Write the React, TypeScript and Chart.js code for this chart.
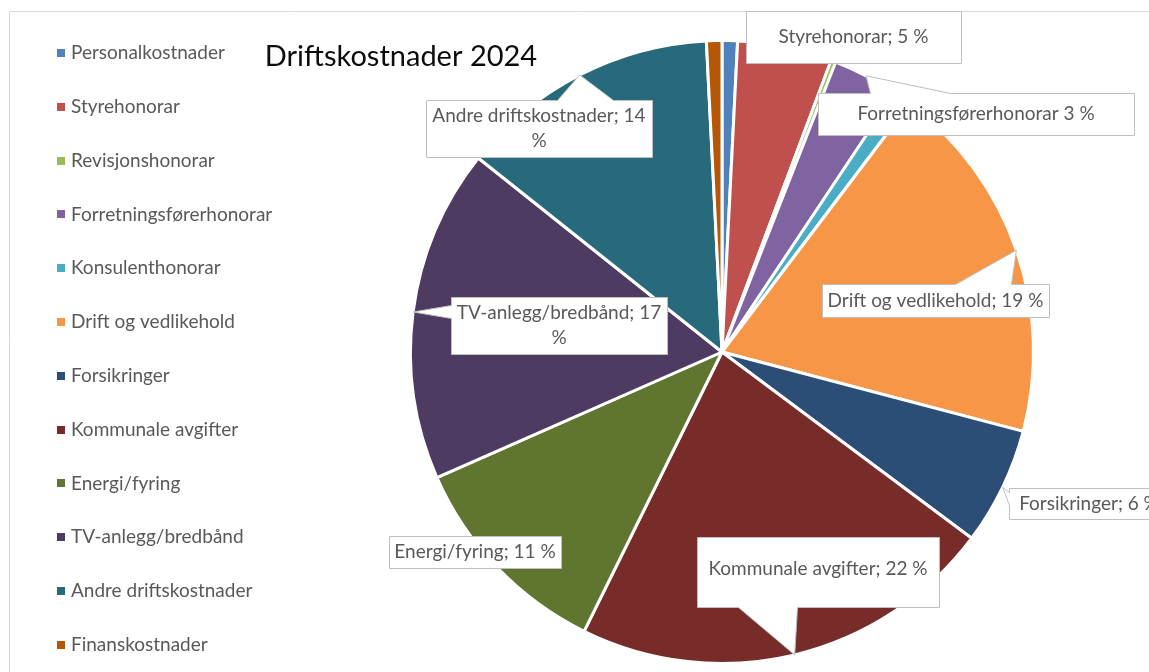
import { useEffect, useRef } from "react";
import { Chart, registerables } from "chart.js";

Chart.register(...registerables);

// ---- data ----
const chartTitle = "Driftskostnader 2024";
const categories = [
  "Personalkostnader",
  "Styrehonorar",
  "Revisjonshonorar",
  "Forretningsførerhonorar",
  "Konsulenthonorar",
  "Drift og vedlikehold",
  "Forsikringer",
  "Kommunale avgifter",
  "Energi/fyring",
  "TV-anlegg/bredbånd",
  "Andre driftskostnader",
  "Finanskostnader",
];
const shares = [0.8, 4.9, 0.25, 3.4, 0.95, 18.8, 6.1, 22.1, 11.1, 17.3, 13.5, 0.8];
// percentages printed in the data labels (null = no label)
const labelPercents = [null, 5, null, 3, null, 19, 6, 22, 11, 17, 14, null];
// separator between name and value in the label (Excel quirk on one label)
const labelSeparators = ["; ", "; ", "; ", " ", "; ", "; ", "; ", "; ", "; ", "; ", "; ", "; "];
const colors = [
  "#4F81BD",
  "#C0504D",
  "#9BBB59",
  "#8064A2",
  "#4BACC6",
  "#F79646",
  "#2C4D75",
  "#772C2A",
  "#5F7530",
  "#4D3B62",
  "#276A7C",
  "#B65708",
];

// ---- layout (positions / styles only) ----
const W = 1149;
const H = 672;
const FONT = 'Lato, "Open Sans", sans-serif';
const LABEL_SIZE = 19;
const TITLE_SIZE = 29;
const TEXT_GRAY = "#595959";
const BOX_BORDER = "#bfbfbf";

type Ptr = { edge: "top" | "bottom" | "left" | "right"; a: number; b: number } | null;
type Callout = { i: number; x: number; y: number; w: number; h: number; wrap: boolean; ptr: Ptr; ty?: number };
const callouts: Callout[] = [
  { i: 1, x: 746, y: 11, w: 215, h: 52, wrap: false, ptr: null },
  { i: 3, x: 818, y: 93, w: 316, h: 42, wrap: false, ptr: { edge: "top", a: 870, b: 950 } },
  { i: 5, x: 822, y: 284, w: 227, h: 33, wrap: false, ptr: { edge: "top", a: 955, b: 1011 } },
  { i: 6, x: 1009, y: 488, w: 160, h: 31, wrap: false, ptr: { edge: "left", a: 492, b: 505 } },
  { i: 7, x: 697, y: 537, w: 242, h: 70, wrap: false, ptr: { edge: "bottom", a: 738, b: 797 }, ty: 569 },
  { i: 8, x: 389, y: 536, w: 172, h: 32, wrap: false, ptr: null },
  { i: 9, x: 451, y: 297, w: 216, h: 57, wrap: true, ptr: { edge: "left", a: 305, b: 318 } },
  { i: 10, x: 426, y: 100, w: 226, h: 57, wrap: true, ptr: { edge: "top", a: 557, b: 613 } },
];

const legendLayout = { boxX: 57, boxSize: 8, textX: 71, firstY: 53, step: 53.8 };
const titlePos = { x: 401, y: 57 };

function labelLines(i: number, wrap: boolean): string[] {
  const name = categories[i];
  const pct = labelPercents[i];
  const sep = labelSeparators[i];
  if (wrap) return [`${name}${sep}${pct}`, "%"];
  return [`${name}${sep}${pct} %`];
}

const excelPlugin = {
  id: "excelLook",
  beforeDraw(chart: any) {
    const ctx = chart.ctx as CanvasRenderingContext2D;
    ctx.save();
    ctx.fillStyle = "#ffffff";
    ctx.fillRect(0, 0, W, H);
    // chart-area frame (top and left edges visible)
    ctx.strokeStyle = "#d9d9d9";
    ctx.lineWidth = 1;
    ctx.beginPath();
    ctx.moveTo(9.5, H);
    ctx.lineTo(9.5, 11.5);
    ctx.lineTo(W, 11.5);
    ctx.stroke();
    ctx.restore();
  },
  afterDraw(chart: any) {
    const ctx = chart.ctx as CanvasRenderingContext2D;
    const meta = chart.getDatasetMeta(0);
    const ds = chart.data.datasets[0];
    ctx.save();

    // title
    ctx.fillStyle = "#0d0d0d";
    ctx.font = `${TITLE_SIZE}px ${FONT}`;
    ctx.textAlign = "center";
    ctx.textBaseline = "middle";
    ctx.fillText(chartTitle, titlePos.x, titlePos.y);

    // legend
    ctx.font = `${LABEL_SIZE}px ${FONT}`;
    ctx.textAlign = "left";
    (chart.data.labels as string[]).forEach((lab, k) => {
      const cy = legendLayout.firstY + k * legendLayout.step;
      ctx.fillStyle = (ds.backgroundColor as string[])[k];
      ctx.fillRect(legendLayout.boxX, Math.round(cy - legendLayout.boxSize / 2), legendLayout.boxSize, legendLayout.boxSize);
      ctx.fillStyle = TEXT_GRAY;
      ctx.fillText(lab, legendLayout.textX, cy);
    });

    // data labels with callouts
    callouts.forEach((c) => {
      const arc = meta.data[c.i] as any;
      const p = arc.getProps(["x", "y", "startAngle", "endAngle", "outerRadius"], true);
      const mid = (p.startAngle + p.endAngle) / 2;
      const tip = { x: p.x + Math.cos(mid) * p.outerRadius, y: p.y + Math.sin(mid) * p.outerRadius };
      const x0 = c.x + 0.5, y0 = c.y + 0.5, x1 = c.x + c.w + 0.5, y1 = c.y + c.h + 0.5;
      ctx.beginPath();
      ctx.moveTo(x0, y0);
      if (c.ptr && c.ptr.edge === "top") {
        ctx.lineTo(c.ptr.a + 0.5, y0);
        ctx.lineTo(tip.x, tip.y);
        ctx.lineTo(c.ptr.b + 0.5, y0);
      }
      ctx.lineTo(x1, y0);
      if (c.ptr && c.ptr.edge === "right") {
        ctx.lineTo(x1, c.ptr.a + 0.5);
        ctx.lineTo(tip.x, tip.y);
        ctx.lineTo(x1, c.ptr.b + 0.5);
      }
      ctx.lineTo(x1, y1);
      if (c.ptr && c.ptr.edge === "bottom") {
        ctx.lineTo(c.ptr.b + 0.5, y1);
        ctx.lineTo(tip.x, tip.y);
        ctx.lineTo(c.ptr.a + 0.5, y1);
      }
      ctx.lineTo(x0, y1);
      if (c.ptr && c.ptr.edge === "left") {
        ctx.lineTo(x0, c.ptr.b + 0.5);
        ctx.lineTo(tip.x, tip.y);
        ctx.lineTo(x0, c.ptr.a + 0.5);
      }
      ctx.closePath();
      ctx.fillStyle = "#ffffff";
      ctx.fill();
      ctx.strokeStyle = BOX_BORDER;
      ctx.lineWidth = 1;
      ctx.stroke();

      const lines = labelLines(c.i, c.wrap);
      ctx.fillStyle = TEXT_GRAY;
      ctx.font = `${LABEL_SIZE}px ${FONT}`;
      ctx.textAlign = "center";
      ctx.textBaseline = "middle";
      const cx = c.x + c.w / 2;
      const cyMid = c.ty ?? c.y + c.h / 2;
      const lh = 25;
      lines.forEach((ln, k) => {
        ctx.fillText(ln, cx, cyMid + (k - (lines.length - 1) / 2) * lh);
      });
    });
    ctx.restore();
  },
};

export default function App() {
  const ref = useRef<HTMLCanvasElement | null>(null);
  useEffect(() => {
    if (!ref.current) return;
    const chart = new Chart(ref.current, {
      type: "pie",
      data: {
        labels: categories,
        datasets: [
          {
            data: shares,
            backgroundColor: colors,
            borderColor: "#ffffff",
            borderWidth: 3,
          },
        ],
      },
      options: {
        responsive: false,
        animation: false,
        devicePixelRatio: 1,
        events: [],
        layout: { padding: { left: 409, right: 114, top: 39, bottom: 7 } },
        plugins: {
          legend: { display: false },
          title: { display: false },
          tooltip: { enabled: false },
        },
      },
      plugins: [excelPlugin],
    } as any);
    return () => chart.destroy();
  }, []);
  return (
    <div style={{ position: "absolute", left: 0, top: 0, width: W, height: H, overflow: "hidden", background: "#fff" }}>
      <canvas ref={ref} width={W} height={H} style={{ display: "block" }} />
    </div>
  );
}
